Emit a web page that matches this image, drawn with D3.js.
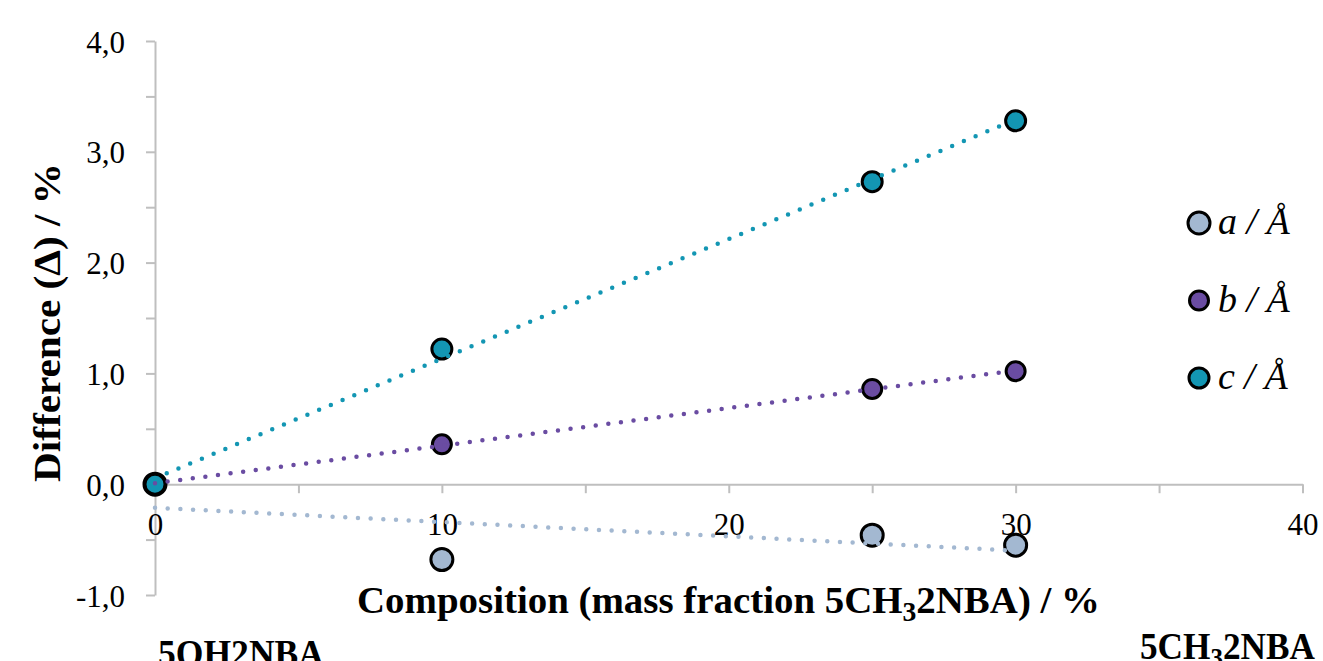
<!DOCTYPE html>
<html>
<head>
<meta charset="utf-8">
<script src="https://cdn.jsdelivr.net/npm/d3@7"></script>
<style>
  body { margin: 0; background: #fff; }
  svg { display: block; }
  .axis path, .axis line { stroke: #bfbfbf; stroke-width: 2; }
  .axis text { font-family: 'Liberation Serif', serif; font-size: 31px; fill: #000; }
  .title { font-family: 'Liberation Serif', serif; font-weight: bold; font-size: 38px; fill: #000; }
  .legend text { font-family: 'Liberation Serif', serif; font-style: italic; font-size: 38px; fill: #000; }
</style>
</head>
<body>
<div id="chart"></div>
<script>
const compositions = [0, 10, 25, 30]
const seriesA = [0, -0.68, -0.46, -0.55]
const seriesB = [0, 0.36, 0.86, 1.02]
const seriesC = [0, 1.22, 2.73, 3.28]
const seriesLabels = ['a', 'b', 'c']
const seriesColors = ['#a3b8d1', '#6a4ca2', '#1396b3']
const markerRadius = [11, 9.5, 10]
const xTicks = [0, 5, 10, 15, 20, 25, 30, 35, 40]
const yTicks = [-1, -0.5, 0, 0.5, 1, 1.5, 2, 2.5, 3, 3.5, 4]

const width = 1323
const height = 661

const x = d3.scaleLinear().domain([0, 40]).range([155, 1302.5])
const y = d3.scaleLinear().domain([-1, 4]).range([595, 41])

const svg = d3.select('#chart')
  .append('svg')
  .attr('width', width)
  .attr('height', height)

// linear trend line, least squares
const fit = (xs, ys) => {
  const mx = d3.mean(xs)
  const my = d3.mean(ys)
  const sxy = d3.sum(xs, (d, i) => (d - mx) * (ys[i] - my))
  const sxx = d3.sum(xs, d => (d - mx) * (d - mx))
  const slope = sxy / sxx
  return { slope, intercept: my - slope * mx }
}

const series = [seriesA, seriesB, seriesC].map((values, i) => ({
  label: seriesLabels[i],
  color: seriesColors[i],
  r: markerRadius[i],
  points: values.map((v, j) => ({ x: compositions[j], y: v }))
}))

// comma decimal, plain hyphen for negatives
const commaFormat = d => d.toFixed(1).replace('.', ',')

// y-axis
const yAxis = d3.axisLeft(y)
  .tickValues(yTicks)
  .tickSize(9)
  .tickPadding(21)
  .tickSizeOuter(0)
  .tickFormat(d => Number.isInteger(d) ? commaFormat(d) : '')

svg.append('g')
  .attr('class', 'axis y-axis')
  .attr('transform', `translate(${x(0)}, 0)`)
  .call(yAxis)
  .call(g => g.selectAll('text').attr('dy', '0.36em'))

// x-axis at y = 0
const xAxis = d3.axisBottom(x)
  .tickValues(xTicks)
  .tickSize(9)
  .tickPadding(20)
  .tickSizeOuter(0)
  .tickFormat(d => d % 10 === 0 ? d : '')

svg.append('g')
  .attr('class', 'axis x-axis')
  .attr('transform', `translate(0, ${y(0)})`)
  .call(xAxis)

// markers
series.forEach(s => {
  svg.append('g')
    .selectAll('circle')
    .data(s.points)
    .enter()
    .append('circle')
    .attr('cx', d => x(d.x))
    .attr('cy', d => y(d.y))
    .attr('r', s.r)
    .attr('fill', s.color)
    .attr('stroke', '#000')
    .attr('stroke-width', 3)
})

// dotted trend lines
const line = d3.line().x(d => x(d.x)).y(d => y(d.y))
series.forEach(s => {
  const xs = s.points.map(d => d.x)
  const ys = s.points.map(d => d.y)
  const f = fit(xs, ys)
  const ends = d3.extent(xs).map(v => ({ x: v, y: f.intercept + f.slope * v }))
  svg.append('path')
    .datum(ends)
    .attr('fill', 'none')
    .attr('stroke', s.color)
    .attr('stroke-width', 4.5)
    .attr('stroke-linecap', 'round')
    .attr('stroke-dasharray', '0 12.7')
    .attr('d', line)
})

// axis titles
const xTitle = svg.append('text')
  .attr('class', 'title')
  .attr('x', 357)
  .attr('y', 613)
  .attr('textLength', 743)
  .attr('lengthAdjust', 'spacingAndGlyphs')
xTitle.append('tspan').text('Composition (mass fraction 5CH')
xTitle.append('tspan').attr('dy', 8).attr('font-size', 27).text('3')
xTitle.append('tspan').attr('dy', -8).text('2NBA) / %')

svg.append('text')
  .attr('class', 'title')
  .attr('transform', 'translate(60, 482) rotate(-90)')
  .attr('textLength', 319)
  .attr('lengthAdjust', 'spacingAndGlyphs')
  .text('Difference (Δ) / %')

// end-member labels
svg.append('text')
  .attr('class', 'title')
  .attr('x', 158)
  .attr('y', 666)
  .attr('textLength', 166)
  .attr('lengthAdjust', 'spacingAndGlyphs')
  .text('5OH2NBA')

const rightLabel = svg.append('text')
  .attr('class', 'title')
  .attr('x', 1140)
  .attr('y', 659)
  .attr('textLength', 175)
  .attr('lengthAdjust', 'spacingAndGlyphs')
rightLabel.append('tspan').text('5CH')
rightLabel.append('tspan').attr('dy', 8).attr('font-size', 27).text('3')
rightLabel.append('tspan').attr('dy', -8).text('2NBA')

// legend
const legendY = d3.scalePoint().domain(seriesLabels).range([223, 378])
const legend = svg.append('g')
  .attr('class', 'legend')
  .selectAll('g')
  .data(series)
  .enter()
  .append('g')
  .attr('transform', d => `translate(1199, ${legendY(d.label)})`)

legend.append('circle')
  .attr('r', d => d.r)
  .attr('fill', d => d.color)
  .attr('stroke', '#000')
  .attr('stroke-width', 3)

legend.append('text')
  .attr('x', 19)
  .attr('y', 11)
  .text(d => `${d.label} / Å`)
</script>
</body>
</html>
